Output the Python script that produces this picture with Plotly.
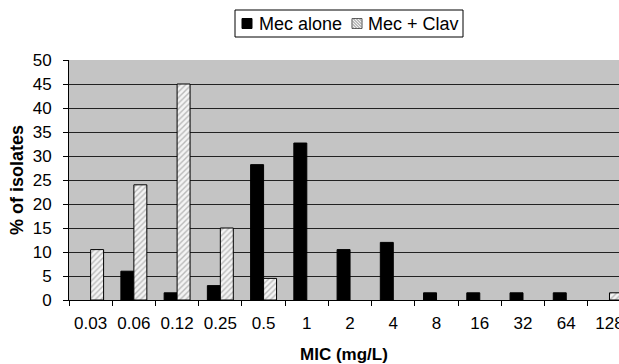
import plotly.graph_objects as go

categories = ["0.03", "0.06", "0.12", "0.25", "0.5", "1", "2", "4", "8", "16", "32", "64", "128"]
series_names = ["Mec alone", "Mec + Clav"]
mec_alone = [0, 6, 1.5, 3, 28.2, 32.7, 10.5, 12, 1.5, 1.5, 1.5, 1.5, 0]
mec_clav = [10.5, 24, 45, 15, 4.5, 0, 0, 0, 0, 0, 0, 0, 1.5]

W, H = 619, 364
ML, MR, MT, MB = 69, 0, 60, 64
PW, PH = W - ML - MR, H - MT - MB


def px(x):
    return (x - ML) / PW


def py(y):
    return (H - MB - y) / PH


fig = go.Figure()
fig.add_trace(go.Bar(
    x=categories, y=mec_alone, name=series_names[0], showlegend=False,
    marker=dict(color="black",
                line=dict(color="black", width=[0 if v == 0 else 1 for v in mec_alone])),
))
fig.add_trace(go.Bar(
    x=categories, y=mec_clav, name=series_names[1], showlegend=False,
    marker=dict(color="white",
                line=dict(color="black", width=[0 if v == 0 else 1 for v in mec_clav]),
                pattern=dict(shape="/", fgcolor="#808080", bgcolor="#f4f4f4", size=4, solidity=0.35)),
))

font = "Liberation Sans, Arial, sans-serif"

# custom compact legend: box, swatches, labels
shapes = [
    dict(type="rect", xref="paper", yref="paper", x0=px(235), x1=px(463), y0=py(10), y1=py(37),
         line=dict(color="black", width=1), fillcolor="white", layer="above"),
    dict(type="rect", xref="paper", yref="paper", x0=px(242), x1=px(252), y0=py(18.5), y1=py(28.5),
         line=dict(color="black", width=1), fillcolor="black", layer="above"),
    dict(type="rect", xref="paper", yref="paper", x0=px(352), x1=px(362), y0=py(18.5), y1=py(28.5),
         line=dict(color="#555555", width=1), fillcolor="#f0f0f0", layer="above"),
]
sx0, sy0, s = 352, 18.5, 10
for k in range(2, 2 * s, 3):
    if k <= s:
        p1 = (sx0, sy0 + s - k)
        p2 = (sx0 + k, sy0 + s)
    else:
        p1 = (sx0 + k - s, sy0)
        p2 = (sx0 + s, sy0 + 2 * s - k)
    shapes.append(dict(type="line", xref="paper", yref="paper",
                       x0=px(p1[0]), y0=py(p1[1]), x1=px(p2[0]), y1=py(p2[1]),
                       line=dict(color="#888888", width=1), layer="above"))

annotations = [
    dict(text=series_names[0], xref="paper", yref="paper", x=px(257), y=py(23.5),
         xanchor="left", yanchor="middle", showarrow=False, font=dict(size=18)),
    dict(text=series_names[1], xref="paper", yref="paper", x=px(366), y=py(23.5),
         xanchor="left", yanchor="middle", showarrow=False, font=dict(size=18)),
]

fig.update_layout(
    width=W, height=H,
    margin=dict(l=ML, r=MR, t=MT, b=MB),
    barmode="group", bargap=0.4, bargroupgap=0,
    paper_bgcolor="white", plot_bgcolor="#c4c4c4",
    font=dict(family=font, size=17, color="black"),
    showlegend=False,
    shapes=shapes, annotations=annotations,
)
fig.update_xaxes(
    type="category", range=[-0.5, 12.22],
    showline=True, linecolor="black", linewidth=1,
    ticks="outside", tickson="boundaries", ticklen=5, tickcolor="black",
    ticklabelstandoff=8, tickfont=dict(size=17),
    showgrid=False, automargin=False,
    title=dict(text="<b>MIC (mg/L)</b>", font=dict(size=17), standoff=15),
)
fig.update_yaxes(
    range=[0, 50], dtick=5,
    showline=True, linecolor="black", linewidth=1,
    ticks="outside", ticklen=5, tickcolor="black",
    ticklabelstandoff=8,
    showgrid=True, gridcolor="#222222", gridwidth=1,
    zeroline=False, automargin=False,
    tickfont=dict(size=17),
    title=dict(text="<b>% of isolates</b>", font=dict(size=18), standoff=4),
)
fig.write_html("out.html")
